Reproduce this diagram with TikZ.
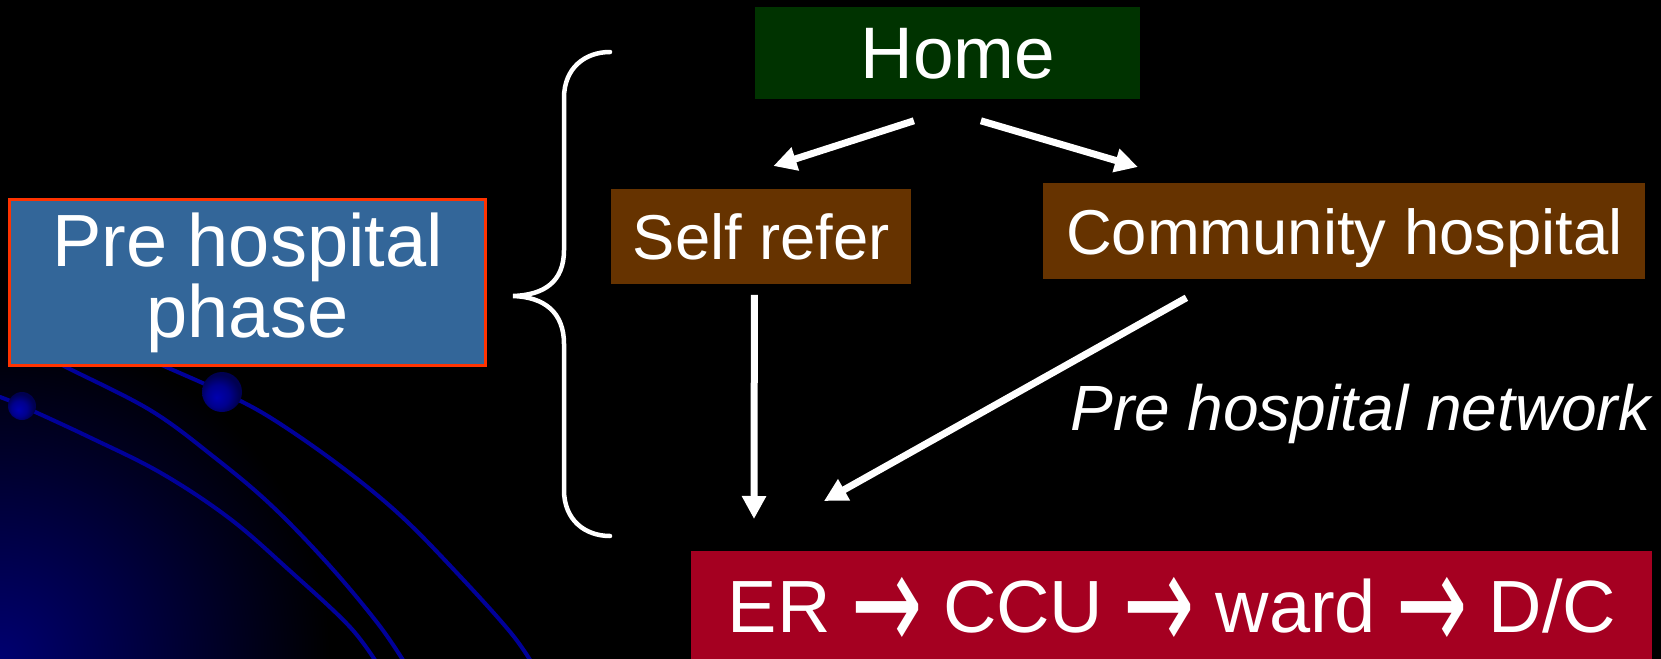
\documentclass[tikz,border=0pt]{standalone}
\usepackage{graphicx}
\usepackage{fontspec}
\setmainfont{Liberation Sans}
\newfontfamily\arrowfont{DejaVu Sans}
\usetikzlibrary{arrows.meta,calc}

\definecolor{homegreen}{HTML}{003300}
\definecolor{boxbrown}{HTML}{663300}
\definecolor{phaseblue}{HTML}{336699}
\definecolor{phaseedge}{HTML}{FF3300}
\definecolor{ercrimson}{HTML}{A50021}
\definecolor{wireblue}{HTML}{000099}
\definecolor{glowblue}{HTML}{000070}
\definecolor{orbcore}{HTML}{0000B0}
\definecolor{orbrim}{HTML}{000050}

\pgfdeclareradialshading{orb}{\pgfpoint{-7bp}{-7bp}}{%
  color(0bp)=(orbcore); color(14bp)=(orbcore!80!black);
  color(25bp)=(orbrim); color(50bp)=(orbrim)}

% heavy step arrow used between the ward stages
\newcommand{\nextstage}{{\arrowfont\raisebox{-0.26em}{\scalebox{1.15}[1.9]{→}}}}

\begin{document}
\begin{tikzpicture}[x=0.5pt,y=-0.5pt,
  stagebox/.style={rectangle, inner sep=0pt, anchor=north west, text=white},
  flow/.style={draw=white, line width=3.5pt,
    -{Triangle[length=11.5pt,width=11.5pt]}},
  wire/.style={draw=wireblue, line width=2pt, line cap=round},
  bigtext/.style={font=\fontsize{37}{33.5}\selectfont},
  midtext/.style={font=\fontsize{31.7}{38}\selectfont}]

% canvas
\fill[black] (0,0) rectangle (1661,659);
\useasboundingbox (0,0) rectangle (1661,659);

% blue glow in the lower left corner
\begin{scope}
  \clip (0,0) rectangle (1661,659);
  \shade[inner color=glowblue, outer color=black] (0,659) circle (330);
\end{scope}

% network wires with their orbs
\draw[wire] plot[smooth,tension=0.6] coordinates
  {(0,397) (22,406) (89,437) (161,473) (229,518) (289,570) (350,627) (380,668)};
\draw[wire] plot[smooth,tension=0.6] coordinates
  {(40,352) (64,366) (150,410) (214,457) (271,505) (329,565) (379,625) (408,668)};
\draw[wire] plot[smooth,tension=0.6] coordinates
  {(140,355) (164,366) (222,392) (271,418) (339,465) (400,515) (457,573) (511,633) (535,668)};
\shade[shading=orb] (222,392) circle (20);
\shade[shading=orb] (22,406) circle (14);

% boxes
\node[stagebox, fill=phaseblue, draw=phaseedge, line width=1.5pt,
      minimum width=238pt, minimum height=83pt, align=center, bigtext]
  (phase) at (8,198) {Pre hospital\\phase};
\node[stagebox, fill=homegreen, minimum width=192.5pt, minimum height=46pt,
      font=\fontsize{36.5}{42}\selectfont]
  (home) at (755,7) {\hspace*{10pt}Home};
\node[stagebox, fill=boxbrown, minimum width=150pt, minimum height=47.5pt,
      text depth=0pt, midtext]
  (self) at (611,189) {Self refer};
\node[stagebox, fill=boxbrown, minimum width=301pt, minimum height=48pt,
      text depth=0pt, midtext]
  (comm) at (1043,183) {Community hospital};
\node[stagebox, fill=ercrimson, minimum width=480.5pt, minimum height=54.5pt,
      text height=26.5pt, text depth=0pt, font=\fontsize{37}{44}\selectfont]
  (er) at (691,551) {ER \nextstage{} CCU \nextstage{} ward \nextstage{} D/C};

% network label
\node[anchor=base west, inner sep=0pt, text=white,
      font={\fontsize{32}{38}\selectfont\itshape}]
  (net) at (1070,430) {Pre hospital network};

% brace grouping the pre hospital part
\draw[white, line width=2.25pt, line cap=round]
  (610,52) .. controls (585,52) and (564,68) .. (564,98) -- (564,250)
  .. controls (564,282) and (544,295) .. (513,296)
  .. controls (544,297) and (564,312) .. (564,344) -- (564,490)
  .. controls (564,520) and (585,536) .. (610,536);

% flow arrows
\draw[flow] ($(home.south)+(-34,21)$) -- ($(self.north)+(12,-23)$);
\draw[flow] ($(home.south)+(33,21)$) -- ($(comm.north west)+(95,-16)$);
\draw[flow] ($(self.south)+(-7,10)$) -- ($(er.north west)+(63,-32)$);
\draw[flow] ($(comm.south)+(-158,18)$) -- ($(er.north west)+(133,-50)$);
\end{tikzpicture}
\end{document}
